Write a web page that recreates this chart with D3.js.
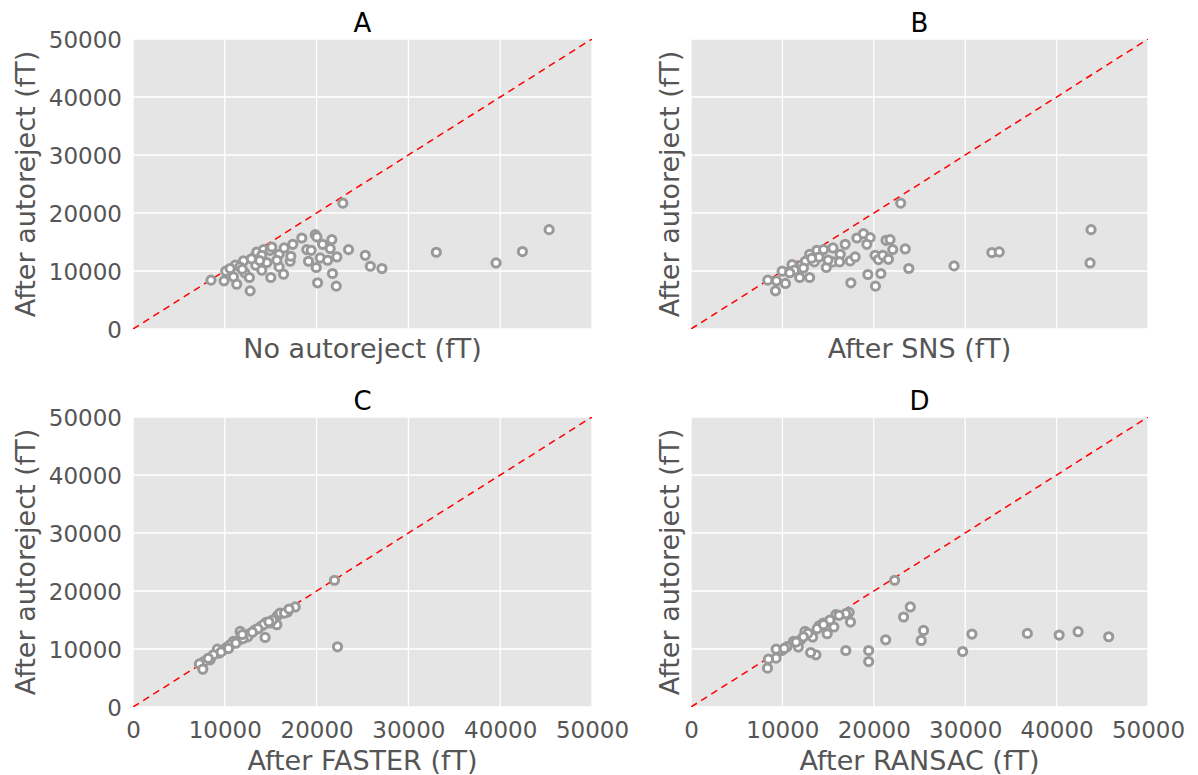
<!DOCTYPE html>
<html>
<head>
<meta charset="utf-8">
<script src="https://cdn.jsdelivr.net/npm/d3@7"></script>
<style>
  html, body { margin: 0; padding: 0; background: #fff; }
  svg { display: block; font-family: "DejaVu Sans", sans-serif; }
</style>
</head>
<body>
<svg id="chart" width="1198" height="775"></svg>
<script>
// ---------- data ----------
const panelTitles = ["A", "B", "C", "D"];
const xLabels = ["No autoreject (fT)", "After SNS (fT)", "After FASTER (fT)", "After RANSAC (fT)"];
const yLabel = "After autoreject (fT)";
const tickValues = [0, 10000, 20000, 30000, 40000, 50000];
const axisDomain = [0, 50000];

const pointsA = [[8500,8420],[9920,8300],[10100,9970],[11300,7730],[11150,11000],[10940,8990],[12030,11730],[12200,9670],[12680,8880],[12760,6580],[13230,12420],[13380,11000],[13490,13280],[14030,10140],[14210,13690],[14580,11460],[14940,13570],[15010,8880],[15120,14140],[15920,12890],[15920,10710],[16400,9450],[16470,13970],[17120,11680],[17190,12540],[17410,14600],[18390,15690],[18930,13690],[19120,11680],[19410,13570],[19850,16270],[20030,15880],[19960,10600],[20110,7960],[20390,12250],[20650,14600],[21200,11850],[21480,13860],[21660,15410],[21730,9570],[22140,7390],[22210,12420],[22860,21700],[23480,13690],[25300,12710],[25850,10820],[27120,10420],[33040,13230],[39550,11390],[42420,13350],[45330,17130],[10580,10420],[11630,10710],[14030,12710],[15670,11850],[12900,12100],[13800,11800],[11900,10300]];

const pointsB = [[8400,8420],[9240,6580],[9350,8300],[9970,9970],[10330,7850],[11060,11110],[11310,10140],[11890,8880],[12070,11000],[12510,11680],[12980,8880],[12980,12890],[13490,11570],[13780,13570],[14510,13690],[14800,10600],[15530,11570],[15530,13970],[16330,12890],[16260,11570],[16870,14600],[17420,11740],[17960,12420],[18150,15690],[18870,16440],[19600,15760],[19240,14600],[17490,7960],[19350,9400],[20180,7390],[20140,12710],[20510,11970],[20770,9570],[20980,12710],[21340,15290],[21780,15410],[21600,12020],[22070,13690],[22940,21700],[23440,13800],[23830,10430],[28780,10880],[32920,13180],[33720,13290],[43770,17130],[43660,11390],[10800,9700],[12300,10500],[14000,12400],[15000,11900],[13200,12200]];

const pointsC = [[21950,21850],[22280,10380],[17670,17250],[16830,16380],[15740,15740],[15670,14190],[14500,14590],[14390,11990],[13920,13890],[12830,12750],[11670,13030],[11590,11590],[10940,11300],[10220,10330],[9410,9290],[9190,9980],[8400,8130],[7740,7840],[7230,7440],[7600,6520],[8760,9000],[9850,9860],[10580,10730],[12210,12460],[13300,13320],[14210,14190],[14940,14480],[16030,16210],[11200,11000],[12500,12100],[13600,13500],[15200,15000],[9600,9500],[10400,10100],[12000,11800],[16500,16200],[14800,14700],[17000,16900],[8200,8400],[11900,12500],[13000,12900]];

const pointsD = [[22280,21850],[23990,17250],[23260,15520],[25440,13200],[25180,11470],[21300,11590],[19440,9740],[19440,7840],[16940,9740],[13670,9000],[13090,9400],[17450,14650],[17300,16320],[16940,16090],[15850,15920],[15630,13790],[14900,12630],[14470,14480],[14030,14010],[13310,12060],[12470,13030],[12000,11590],[11740,10330],[11200,11300],[9930,9740],[9310,9980],[9310,8420],[8470,8250],[8370,6700],[29720,9570],[30740,12580],[36800,12690],[40280,12400],[42350,12980],[45700,12110],[10500,10400],[12800,12700],[13800,13500],[15200,15000],[11500,11200],[14500,14200],[10200,10100],[12300,12100],[16200,15800]];

const panelPoints = [pointsA, pointsB, pointsC, pointsD];

// ---------- layout ----------
const svg = d3.select("#chart");
const boxes = [
  { left: 133, right: 592, top: 39, bottom: 329, showX: false, showY: true },
  { left: 691, right: 1148, top: 39, bottom: 329, showX: false, showY: false },
  { left: 133, right: 592, top: 417, bottom: 707, showX: true, showY: true },
  { left: 691, right: 1148, top: 417, bottom: 707, showX: true, showY: false }
];
const tickColor = "#555555";

boxes.forEach((b, i) => {
  const x = d3.scaleLinear().domain(axisDomain).range([b.left, b.right]);
  const y = d3.scaleLinear().domain(axisDomain).range([b.bottom, b.top]);
  const g = svg.append("g");
  const clipId = "clip" + i;
  svg.append("defs").append("clipPath").attr("id", clipId)
    .append("rect").attr("x", b.left).attr("y", b.top)
    .attr("width", b.right - b.left).attr("height", b.bottom - b.top);

  g.append("rect").attr("x", b.left).attr("y", b.top)
    .attr("width", b.right - b.left).attr("height", b.bottom - b.top)
    .attr("fill", "#e5e5e5");

  // grid
  g.selectAll(".gx").data(tickValues).enter().append("line")
    .attr("x1", d => x(d)).attr("x2", d => x(d))
    .attr("y1", b.top).attr("y2", b.bottom)
    .attr("stroke", "#ffffff").attr("stroke-width", 1.3);
  g.selectAll(".gy").data(tickValues).enter().append("line")
    .attr("y1", d => y(d)).attr("y2", d => y(d))
    .attr("x1", b.left).attr("x2", b.right)
    .attr("stroke", "#ffffff").attr("stroke-width", 1.3);

  // identity line
  g.append("line").attr("clip-path", `url(#${clipId})`)
    .attr("x1", x(axisDomain[0])).attr("y1", y(axisDomain[0]))
    .attr("x2", x(axisDomain[1])).attr("y2", y(axisDomain[1]))
    .attr("stroke", "#ff0000").attr("stroke-width", 1.5)
    .attr("stroke-dasharray", "7,5");

  // points
  g.selectAll("circle.pt").data(panelPoints[i]).enter().append("circle")
    .attr("class", "pt")
    .attr("cx", d => x(d[0])).attr("cy", d => y(d[1]))
    .attr("r", 4.1)
    .attr("fill", "#ffffff").attr("stroke", "#999999").attr("stroke-width", 3);

  // axes
  if (b.showX) {
    const ax = g.append("g").attr("transform", `translate(0,${b.bottom})`)
      .call(d3.axisBottom(x).tickValues(tickValues).tickSize(0).tickPadding(0).tickFormat(d3.format("d")));
    ax.select(".domain").remove();
    ax.selectAll("text").attr("dy", null).attr("y", 31)
      .attr("font-size", 23).attr("fill", tickColor).attr("font-family", "DejaVu Sans");
  }
  if (b.showY) {
    const ay = g.append("g").attr("transform", `translate(${b.left},0)`)
      .call(d3.axisLeft(y).tickValues(tickValues).tickSize(0).tickPadding(0).tickFormat(d3.format("d")));
    ay.select(".domain").remove();
    ay.selectAll("text").attr("dy", null).attr("x", -11).attr("y", 8)
      .attr("font-size", 23).attr("fill", tickColor).attr("font-family", "DejaVu Sans");
  }

  // title
  g.append("text").attr("x", (b.left + b.right) / 2).attr("y", b.top - 7)
    .attr("text-anchor", "middle").attr("font-size", 26).attr("fill", "#000")
    .text(panelTitles[i]);

  // x label
  g.append("text").attr("x", (b.left + b.right) / 2)
    .attr("y", b.showX ? b.bottom + 63 : b.bottom + 29)
    .attr("text-anchor", "middle").attr("font-size", 27).attr("fill", tickColor)
    .text(xLabels[i]);

  // y label
  const ylx = b.showY ? b.left - 98 : b.left - 12;
  g.append("text")
    .attr("transform", `translate(${ylx},${(b.top + b.bottom) / 2}) rotate(-90)`)
    .attr("text-anchor", "middle").attr("font-size", 27).attr("fill", tickColor)
    .text(yLabel);
});
</script>
</body>
</html>
